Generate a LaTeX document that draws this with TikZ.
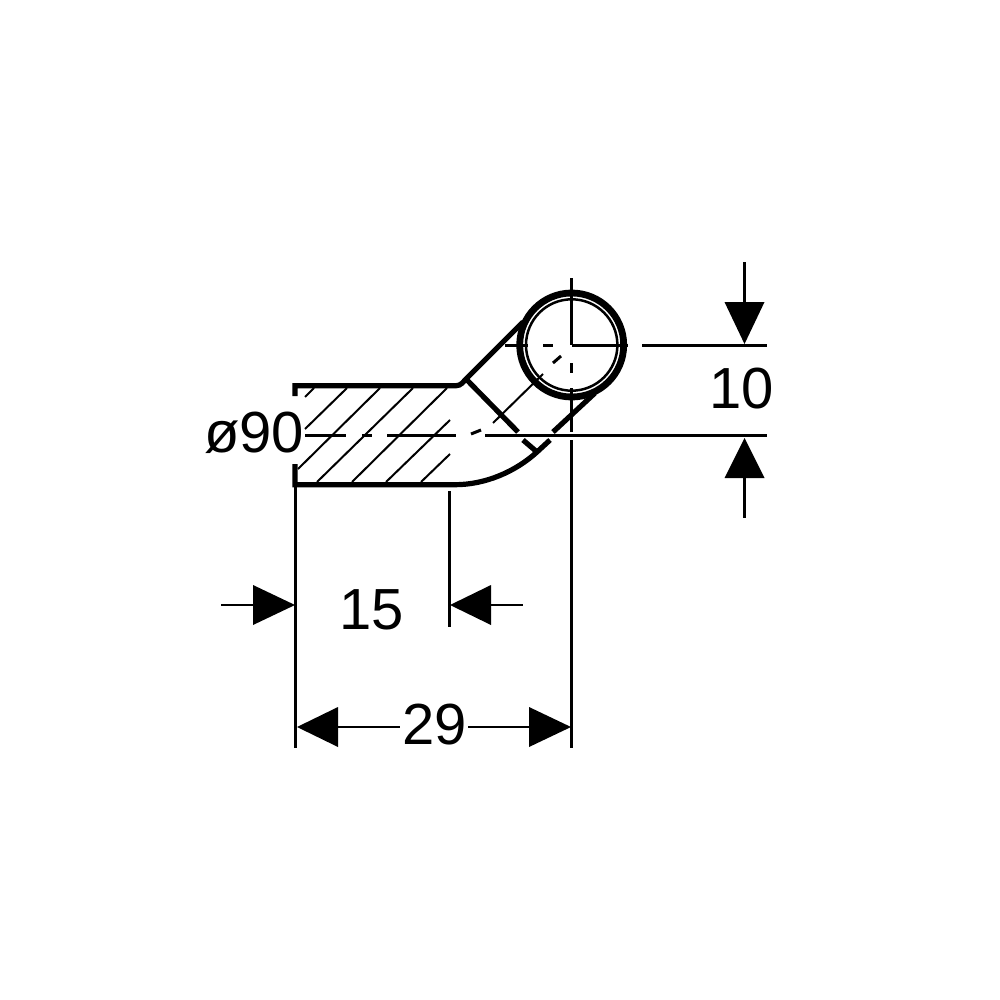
\documentclass[tikz,border=0pt]{standalone}
\usepackage{fontspec}
\setmainfont{Liberation Sans}
\tikzset{
  thick line/.style={line width=5.2pt,line cap=butt,line join=miter},
  med line/.style={line width=3pt},
  thin line/.style={line width=2.5pt},
  hatch line/.style={line width=2pt},
  tri/.style={fill=black,draw=none},
  dim/.style={font=\fontsize{58}{58}\selectfont,inner sep=0pt,anchor=center}
}
\begin{document}
\begin{tikzpicture}[x=1pt,y=-1pt]
\useasboundingbox (0,0) rectangle (1000,1000);
% hatching
\draw[hatch line] (305,397)--(314,388) (305,429)--(347,388) (298,469)--(380,388)
  (317,482)--(413,388) (352,482)--(447,388) (386,482)--(450,420) (421,482)--(450,454);
% body outline
\draw[thick line] (295,396)--(295,385.7)--(456,385.7) .. controls (461,385.7) and (463,382) .. (466,379)--(523,322);
\draw[thick line] (295,464)--(295,484.7)--(455,484.7) .. controls (485,484.7) and (515,472) .. (537,452)--(550,440);
\draw[thick line] (553,432)--(595,393);
\draw[thick line] (466,379)--(518,432) (523,440)--(537,452);
% circle
\draw[line width=6.8pt,fill=white] (571.7,345) circle (52);
\draw[thin line] (571.7,345) circle (45.7);
% centre lines
\draw[med line] (571.7,278)--(571.7,345) (571.7,363)--(571.7,373) (571.7,388)--(571.7,432) (571.7,440)--(571.7,748);
\draw[med line] (571.7,345)--(628,345) (642,345)--(767,345) (543,345)--(553,345) (505,345)--(528,345);
\draw[med line] (485,435.5)--(767,435.5) (305,435.5)--(346,435.5) (362,435.5)--(372,435.5) (387,435.5)--(456,435.5);
\draw[med line] (471,434)--(481,430);
\draw[hatch line] (493,423)--(543,374);
\draw[med line] (553,363)--(561,356);
% dimension lines
\draw[thin line] (295.5,486)--(295.5,748) (449.5,491)--(449.5,627);
\draw[thin line] (221,605)--(253,605) (491,605)--(523,605);
\draw[thin line] (338,727)--(400,727) (468,727)--(529,727);
\draw[thin line] (744.5,262)--(744.5,302) (744.5,478)--(744.5,518);
% arrowheads
\fill[tri] (295,605)--(253,585)--(253,625)--cycle;
\fill[tri] (450,605)--(491,585)--(491,625)--cycle;
\fill[tri] (297,727)--(338,707)--(338,747)--cycle;
\fill[tri] (571,727)--(529,707)--(529,747)--cycle;
\fill[tri] (744.5,344)--(724.5,302)--(764.5,302)--cycle;
\fill[tri] (744.5,438)--(724.5,478)--(764.5,478)--cycle;
% labels
\node[dim] (dia) at (254,433) {ø90};
\node[dim] (fifteen) at (371.5,610) {15};
\node[dim] (twentynine) at (435,725) {29};
\node[dim] (ten) at (741.5,389) {10};
\end{tikzpicture}
\end{document}
